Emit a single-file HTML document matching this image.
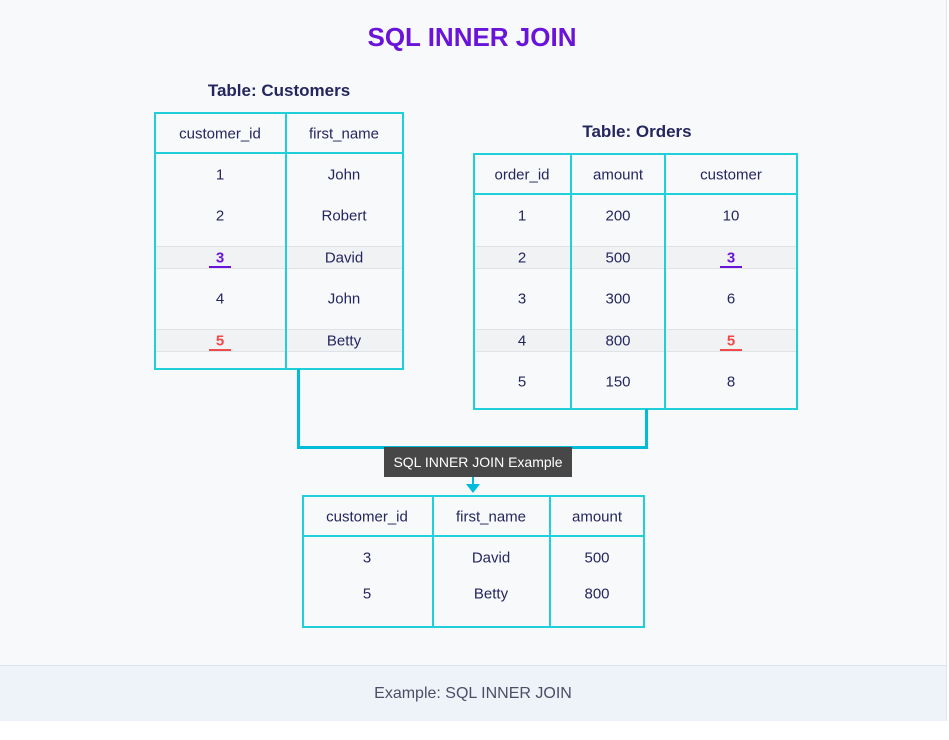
<!DOCTYPE html>
<html><head><style>
body{margin:0;width:949px;height:740px;background:#fff;font-family:"Liberation Sans",sans-serif;position:relative;overflow:hidden;color:#25265e}
.bg{position:absolute;left:0;top:0;width:946px;height:720px;background:#f8f9fb;border-right:1px solid #e3e6ea;border-bottom:1px solid #e3e6ea}
.foot{position:absolute;left:0;top:665px;width:946px;height:55px;background:#eef2f9;border-top:1px solid #dde3ec;text-align:center;line-height:55px;font-size:16px;color:#4b4f66}
.a{position:absolute}
.t{position:absolute;font-size:15px;text-align:center;transform:translate(-50%,-45%);white-space:nowrap}
.box{position:absolute;border:2px solid #1fd0d8;box-sizing:border-box}
.vl{position:absolute;width:2px;background:#1fd0d8}
.hl{position:absolute;height:2px;background:#1fd0d8}
.sh{position:absolute;background:#f1f2f4;border-top:1px solid #dfe3e8;border-bottom:1px solid #dfe3e8}
</style></head><body>
<div class="bg"></div>
<div class="t" style="left:472px;top:36px;font-size:26px;font-weight:bold;color:#6a14d9">SQL INNER JOIN</div>
<div class="t" style="left:279px;top:90px;font-size:17px;font-weight:bold">Table: Customers</div>
<div class="t" style="left:637px;top:131px;font-size:17px;font-weight:bold">Table: Orders</div>

<!-- Customers -->
<div class="sh" style="left:155px;top:246px;width:247px;height:21px"></div>
<div class="sh" style="left:155px;top:329px;width:247px;height:21px"></div>
<div class="box" style="left:154px;top:112px;width:250px;height:258px"></div>
<div class="hl" style="left:154px;top:152px;width:250px"></div>
<div class="vl" style="left:285px;top:112px;height:258px"></div>
<div class="t" style="left:220px;top:133px">customer_id</div>
<div class="t" style="left:344px;top:133px">first_name</div>
<div class="t" style="left:220px;top:174px">1</div><div class="t" style="left:344px;top:174px">John</div>
<div class="t" style="left:220px;top:215px">2</div><div class="t" style="left:344px;top:215px">Robert</div>
<div class="t" style="left:220px;top:257px;color:#6a14d9;font-weight:bold">3</div><div class="t" style="left:344px;top:257px">David</div>
<div class="a" style="left:209px;top:266px;width:22px;height:2px;background:#6a14d9"></div>
<div class="t" style="left:220px;top:298px">4</div><div class="t" style="left:344px;top:298px">John</div>
<div class="t" style="left:220px;top:340px;color:#f04a4a;font-weight:bold">5</div><div class="t" style="left:344px;top:340px">Betty</div>
<div class="a" style="left:209px;top:349px;width:22px;height:2px;background:#f04a4a"></div>

<!-- Orders -->
<div class="sh" style="left:474px;top:246px;width:322px;height:21px"></div>
<div class="sh" style="left:474px;top:329px;width:322px;height:21px"></div>
<div class="box" style="left:473px;top:153px;width:325px;height:257px"></div>
<div class="hl" style="left:473px;top:193px;width:325px"></div>
<div class="vl" style="left:570px;top:153px;height:257px"></div>
<div class="vl" style="left:664px;top:153px;height:257px"></div>
<div class="t" style="left:522px;top:174px">order_id</div><div class="t" style="left:618px;top:174px">amount</div><div class="t" style="left:731px;top:174px">customer</div>
<div class="t" style="left:522px;top:215px">1</div><div class="t" style="left:618px;top:215px">200</div><div class="t" style="left:731px;top:215px">10</div>
<div class="t" style="left:522px;top:257px">2</div><div class="t" style="left:618px;top:257px">500</div><div class="t" style="left:731px;top:257px;color:#6a14d9;font-weight:bold">3</div>
<div class="a" style="left:720px;top:266px;width:22px;height:2px;background:#6a14d9"></div>
<div class="t" style="left:522px;top:298px">3</div><div class="t" style="left:618px;top:298px">300</div><div class="t" style="left:731px;top:298px">6</div>
<div class="t" style="left:522px;top:340px">4</div><div class="t" style="left:618px;top:340px">800</div><div class="t" style="left:731px;top:340px;color:#f04a4a;font-weight:bold">5</div>
<div class="a" style="left:720px;top:349px;width:22px;height:2px;background:#f04a4a"></div>
<div class="t" style="left:522px;top:381px">5</div><div class="t" style="left:618px;top:381px">150</div><div class="t" style="left:731px;top:381px">8</div>

<!-- connector -->
<div class="a" style="left:297px;top:369px;width:3px;height:80px;background:#00bcd9"></div>
<div class="a" style="left:297px;top:446px;width:351px;height:3px;background:#00bcd9"></div>
<div class="a" style="left:645px;top:409px;width:3px;height:40px;background:#00bcd9"></div>
<div class="a" style="left:384px;top:447px;width:188px;height:30px;background:#474747;color:#fff;font-size:14px;line-height:30px;text-align:center">SQL INNER JOIN Example</div>
<div class="a" style="left:472px;top:477px;width:2px;height:8px;background:#00bcd9"></div>
<div class="a" style="left:466px;top:484px;width:0;height:0;border-left:7px solid transparent;border-right:7px solid transparent;border-top:9px solid #00bcd9"></div>

<!-- Result -->
<div class="box" style="left:302px;top:495px;width:343px;height:133px"></div>
<div class="hl" style="left:302px;top:535px;width:343px"></div>
<div class="vl" style="left:432px;top:495px;height:133px"></div>
<div class="vl" style="left:549px;top:495px;height:133px"></div>
<div class="t" style="left:367px;top:516px">customer_id</div><div class="t" style="left:491px;top:516px">first_name</div><div class="t" style="left:597px;top:516px">amount</div>
<div class="t" style="left:367px;top:557px">3</div><div class="t" style="left:491px;top:557px">David</div><div class="t" style="left:597px;top:557px">500</div>
<div class="t" style="left:367px;top:593px">5</div><div class="t" style="left:491px;top:593px">Betty</div><div class="t" style="left:597px;top:593px">800</div>

<div class="foot">Example: SQL INNER JOIN</div>
</body></html>
